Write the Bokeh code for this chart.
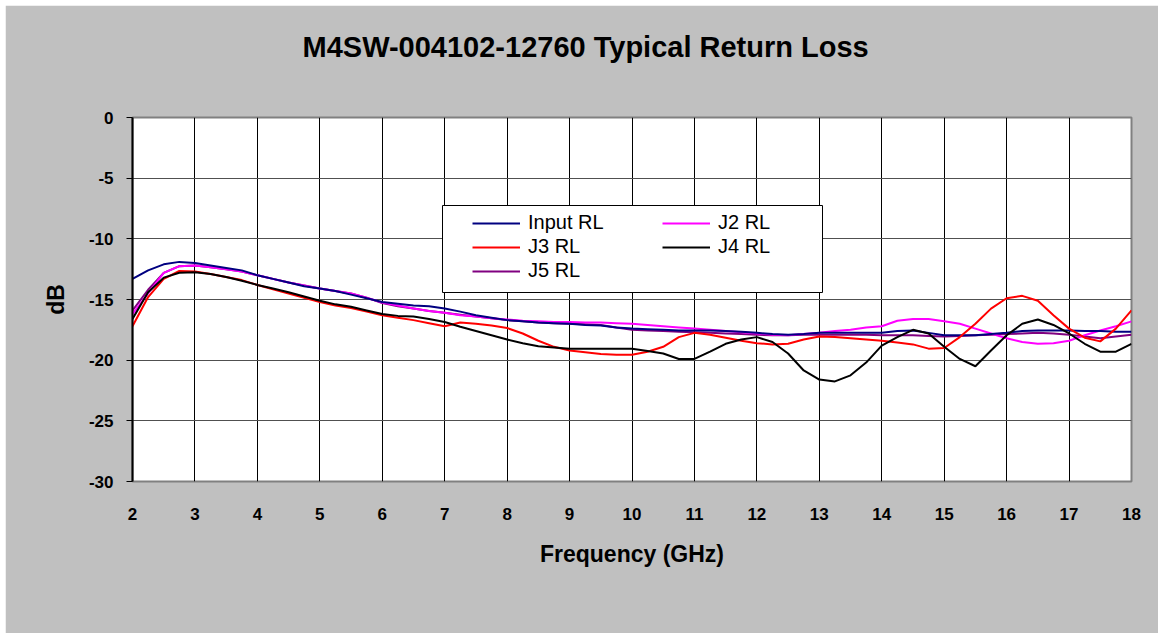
from bokeh.plotting import figure
from bokeh.models import Legend, LegendItem, FixedTicker, Range1d, BoxAnnotation, LinearAxis
from bokeh.embed import file_html
from bokeh.resources import INLINE

# ---------------- data ----------------
freq = [2.0, 2.25, 2.5, 2.75, 3.0, 3.25, 3.5, 3.75, 4.0, 4.25, 4.5, 4.75,
        5.0, 5.25, 5.5, 5.75, 6.0, 6.25, 6.5, 6.75, 7.0, 7.25, 7.5, 7.75,
        8.0, 8.25, 8.5, 8.75, 9.0, 9.25, 9.5, 9.75, 10.0, 10.25, 10.5, 10.75,
        11.0, 11.25, 11.5, 11.75, 12.0, 12.25, 12.5, 12.75, 13.0, 13.25, 13.5, 13.75,
        14.0, 14.25, 14.5, 14.75, 15.0, 15.25, 15.5, 15.75, 16.0, 16.25, 16.5, 16.75,
        17.0, 17.25, 17.5, 17.75, 18.0]

input_rl = [-13.3, -12.6, -12.1, -11.9, -12.0, -12.2, -12.4, -12.6, -13.0, -13.3, -13.6, -13.9,
            -14.1, -14.3, -14.6, -14.9, -15.2, -15.35, -15.5, -15.55, -15.75, -16.0, -16.3, -16.5,
            -16.7, -16.8, -16.9, -16.95, -17.0, -17.1, -17.15, -17.3, -17.4, -17.45, -17.5, -17.55,
            -17.55, -17.55, -17.6, -17.65, -17.75, -17.85, -17.9, -17.85, -17.75, -17.75, -17.75, -17.75,
            -17.75, -17.6, -17.55, -17.75, -17.95, -17.95, -17.95, -17.85, -17.75, -17.6, -17.55, -17.55,
            -17.55, -17.6, -17.6, -17.65, -17.65]

j2_rl = [-16.2, -14.5, -12.8, -12.25, -12.2, -12.35, -12.5, -12.7, -13.0, -13.3, -13.6, -13.85,
         -14.1, -14.3, -14.5, -14.85, -15.25, -15.5, -15.75, -15.95, -16.1, -16.3, -16.4, -16.55,
         -16.65, -16.75, -16.8, -16.85, -16.85, -16.9, -16.9, -16.95, -17.0, -17.1, -17.2, -17.3,
         -17.4, -17.5, -17.6, -17.7, -17.8, -17.9, -17.95, -17.85, -17.75, -17.6, -17.5, -17.3,
         -17.2, -16.75, -16.6, -16.6, -16.8, -17.0, -17.4, -17.8, -18.2, -18.5, -18.65, -18.6,
         -18.4, -17.95, -17.55, -17.2, -16.8]

j3_rl = [-17.2, -14.8, -13.3, -12.65, -12.7, -12.9, -13.15, -13.4, -13.8, -14.15, -14.5, -14.85,
         -15.2, -15.5, -15.7, -16.0, -16.3, -16.5, -16.7, -16.95, -17.2, -16.9, -17.0, -17.15,
         -17.35, -17.8, -18.4, -18.9, -19.2, -19.35, -19.5, -19.55, -19.55, -19.3, -18.9, -18.1,
         -17.75, -17.9, -18.15, -18.4, -18.6, -18.7, -18.65, -18.3, -18.05, -18.1, -18.2, -18.3,
         -18.4, -18.55, -18.7, -19.05, -19.0, -18.1, -17.0, -15.75, -14.9, -14.7, -15.1, -16.3,
         -17.4, -18.15, -18.45, -17.4, -15.9]

j4_rl = [-16.6, -14.4, -13.2, -12.8, -12.75, -12.9, -13.15, -13.45, -13.8, -14.1, -14.4, -14.75,
         -15.1, -15.4, -15.6, -15.9, -16.2, -16.35, -16.4, -16.6, -16.85, -17.25, -17.6, -17.95,
         -18.3, -18.6, -18.85, -18.95, -19.05, -19.05, -19.05, -19.05, -19.05, -19.25, -19.45, -19.9,
         -19.9, -19.3, -18.65, -18.3, -18.1, -18.5, -19.45, -20.85, -21.6, -21.75, -21.25, -20.2,
         -18.8, -18.1, -17.5, -17.8, -18.9, -19.9, -20.5, -19.2, -17.95, -17.0, -16.65, -17.1,
         -17.8, -18.65, -19.3, -19.3, -18.65]

j5_rl = [-15.9, -14.2, -12.8, -12.25, -12.2, -12.35, -12.5, -12.7, -13.0, -13.3, -13.6, -13.85,
         -14.1, -14.3, -14.5, -14.85, -15.3, -15.55, -15.75, -15.95, -16.1, -16.25, -16.4, -16.55,
         -16.7, -16.8, -16.9, -16.95, -17.0, -17.05, -17.1, -17.3, -17.5, -17.55, -17.6, -17.65,
         -17.7, -17.75, -17.8, -17.85, -17.9, -17.95, -17.95, -17.9, -17.9, -17.9, -17.9, -17.9,
         -17.95, -17.95, -17.95, -18.0, -18.05, -18.0, -17.95, -17.9, -17.85, -17.8, -17.75, -17.8,
         -17.9, -18.05, -18.2, -18.05, -17.9]

series_names = ["Input RL", "J2 RL", "J3 RL", "J4 RL", "J5 RL"]
series_values = [input_rl, j2_rl, j3_rl, j4_rl, j5_rl]
series_colors = ["#000080", "#FF00FF", "#FF0000", "#000000", "#800080"]
draw_order = [4, 1, 0, 2, 3]
legend_col1 = [0, 2, 4]
legend_col2 = [1, 3]

x_ticks = [2, 3, 4, 5, 6, 7, 8, 9, 10, 11, 12, 13, 14, 15, 16, 17, 18]
x_tick_labels = ["2", "3", "4", "5", "6", "7", "8", "9", "10", "11", "12", "13",
                 "14", "15", "16", "17", "18"]
y_ticks = [0, -5, -10, -15, -20, -25, -30]
y_tick_labels = ["0", "-5", "-10", "-15", "-20", "-25", "-30"]

title_text = "M4SW-004102-12760 Typical Return Loss"
x_label = "Frequency (GHz)"
y_label = "dB"

FONT = "Liberation Sans"

# ---------------- figure ----------------
p = figure(width=1153, height=628,
           x_range=Range1d(x_ticks[0], x_ticks[-1]),
           y_range=Range1d(y_ticks[-1], y_ticks[0]),
           output_backend="svg", toolbar_location=None,
           min_border_left=127, min_border_right=27,
           min_border_top=112, min_border_bottom=152,
           background_fill_color="white", border_fill_color="#C0C0C0",
           outline_line_color="#808080", outline_line_width=2)
p.margin = (5, 0, 0, 5)

renderers = {}
for i in draw_order:
    r = p.line(freq, series_values[i], line_color=series_colors[i], line_width=2)
    renderers[i] = r

xax = p.below[0]
yax = p.left[0]

# invisible spacer axis between frame and title: one hidden tick, empty label
spacer = LinearAxis(ticker=FixedTicker(ticks=[x_ticks[0]]),
                    major_label_overrides={x_ticks[0]: ""},
                    axis_line_color=None,
                    major_tick_line_color=None, minor_tick_line_color=None,
                    major_tick_out=50, major_tick_in=0, minor_tick_out=0,
                    major_label_standoff=0, major_label_text_font_size="1px",
                    major_label_text_alpha=0.0)
p.add_layout(spacer, "above")

p.title.text = title_text
p.title.align = "left"
p.title.offset = 170
p.title.standoff = 10
p.title.vertical_align = "bottom"
p.title.text_font = FONT
p.title.text_font_size = "29px"
p.title.text_font_style = "bold"
p.title.text_color = "black"

# axes
xax.ticker = FixedTicker(ticks=x_ticks)
xax.major_label_overrides = {t: s for t, s in zip(x_ticks, x_tick_labels)}
yax.ticker = FixedTicker(ticks=y_ticks)
yax.major_label_overrides = {t: s for t, s in zip(y_ticks, y_tick_labels)}

for ax in (xax, yax):
    ax.major_label_text_font = FONT
    ax.major_label_text_font_size = "17px"
    ax.major_label_text_font_style = "bold"
    ax.major_label_text_color = "black"
    ax.axis_label_text_font = FONT
    ax.axis_label_text_font_size = "23px"
    ax.axis_label_text_font_style = "bold"
    ax.axis_label_text_color = "black"
    ax.minor_tick_line_color = None

xax.axis_label = x_label
xax.axis_line_color = None
xax.major_tick_line_color = None
xax.major_tick_out = 0
xax.major_tick_in = 0
xax.major_label_standoff = 26
xax.axis_label_standoff = 18

yax.axis_label = y_label
yax.axis_line_color = "black"
yax.axis_line_width = 2
yax.major_tick_line_color = "black"
yax.major_tick_out = 6
yax.major_tick_in = 0
yax.major_label_standoff = 13
yax.axis_label_standoff = 17

p.xgrid.grid_line_color = "black"
p.xgrid.grid_line_width = 1
p.ygrid.grid_line_color = "#505050"
p.ygrid.grid_line_width = 1

# legend box (screen units, relative to the plot frame)
box = BoxAnnotation(left=310, right=690, bottom=189, top=276,
                    left_units="screen", right_units="screen",
                    bottom_units="screen", top_units="screen",
                    fill_color="white", fill_alpha=1.0,
                    line_color="black", line_width=1, line_alpha=1.0)
p.add_layout(box)

def make_legend(idx, loc):
    items = [LegendItem(label=series_names[i], renderers=[renderers[i]]) for i in idx]
    return Legend(items=items, location=loc, orientation="vertical",
                  label_text_font=FONT, label_text_font_size="20px", label_text_color="black",
                  glyph_width=48, glyph_height=20, label_height=20, label_width=20,
                  label_standoff=8, spacing=1, padding=0, margin=0,
                  border_line_color=None, background_fill_alpha=0.0)

p.add_layout(make_legend(legend_col1, (340, 199)), "center")
p.add_layout(make_legend(legend_col2, (530, 223)), "center")

open("out.html", "w").write(file_html(p, INLINE))
